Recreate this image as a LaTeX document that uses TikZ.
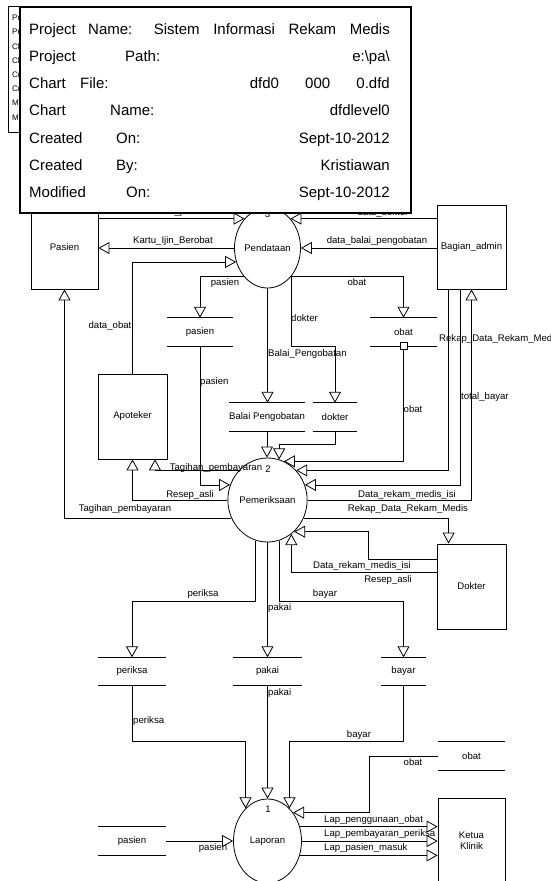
\documentclass[tikz,border=0pt]{standalone}
\usepackage{fontspec}
\setmainfont{Liberation Sans}
\usetikzlibrary{arrows.meta, shapes.geometric}
\tikzset{
	entity/.style={draw, line width=.8pt, inner sep=1pt, align=center},
	proc/.style={draw, ellipse, line width=.8pt, inner sep=0pt},
	store/.style={inner sep=0pt, minimum height=28pt},
	flow/.style={line width=.8pt, -{Triangle[length=11pt, width=12pt, fill=white]}},
	lbl/.style={inner sep=0pt, text height=7pt, text depth=2pt},
	hdrtxt/.style={inner sep=0pt, text height=11pt, text depth=1pt, font=\fontsize{15}{18}\selectfont},
}

\begin{document}
\begin{tikzpicture}[x=1pt, y=-1pt, font=\fontsize{9.6}{11}\selectfont]
	\useasboundingbox (0,0) rectangle (550,881);
	% flow labels first, the arrow tips are drawn over them
	\foreach \x/\y/\t [count=\i] in {182/212/data\_pasien, 383/213/data\_dokter,
			173/241/Kartu\_Ijin\_Berobat, 377/241/data\_balai\_pengobatan,
			110/326/data\_obat, 225/283/pasien, 357/283/obat, 413/410/obat,
			216/468/Tagihan\_pembayaran, 190/495/Resep\_asli, 125/509/Tagihan\_pembayaran,
			407/495/Data\_rekam\_medis\_isi, 408/509/Rekap\_Data\_Rekam\_Medis,
			362/566/Data\_rekam\_medis\_isi, 388/580/Resep\_asli,
			203/594/periksa, 325/594/bayar, 359/735/bayar, 413/763/obat, 213/848/pasien,
			267.5/215/3, 268/470/2, 268/810/1} {
		\node[lbl] (lc\i) at (\x,\y) {\t};
	}
	\foreach \x/\y/\t [count=\i] in {200/382/pasien, 268/354/Balai\_Pengobatan,
			291/319/dokter, 439/339/Rekap\_Data\_Rekam\_Medis, 461/397/total\_bayar,
			268/608/pakai, 268/693/pakai, 133/721/periksa,
			324/820/Lap\_penggunaan\_obat, 324/834/Lap\_pembayaran\_periksa,
			324/848/Lap\_pasien\_masuk} {
		\node[lbl, anchor=west] (lw\i) at (\x,\y) {\t};
	}

	% external entities
	\node[entity, minimum width=67pt, minimum height=84pt] (ePasien) at (64.5,247) {Pasien};
	\node[entity, minimum width=69pt, minimum height=84pt] (eAdmin) at (471.5,247) {Bagian\_admin};
	\node[entity, minimum width=69pt, minimum height=85pt] (eApoteker) at (132.5,416.5) {Apoteker};
	\node[entity, minimum width=69pt, minimum height=85pt] (eDokter) at (471.5,586.5) {Dokter};
	\node[entity, minimum width=67pt, minimum height=86pt] (eKetua) at (471.5,841) {Ketua\\Klinik};

	% processes
	\node[proc, minimum width=66pt, minimum height=80pt] (pPendataan) at (267.5,248) {Pendataan};
	\node[proc, minimum width=68pt, minimum height=84pt] (pPemeriksaan) at (267.5,500) {Pemeriksaan};
	\node[proc, minimum width=68pt, minimum height=84pt] (pLaporan) at (267.5,841) {Laporan};

	% data stores
	\foreach \n/\x/\y/\w/\t in {sPas1/200/332/66pt/pasien, sObat1/403.5/332/67pt/obat,
			sBalai/267/417/68pt/Balai Pengobatan, sDok/335/417/44pt/dokter,
			sPeriksa/132/671.5/68pt/periksa, sPakai/267.5/671.5/69pt/pakai,
			sBayar/403.5/671.5/45pt/bayar, sObat2/471.5/756/67pt/obat,
			sPas2/132/841/68pt/pasien} {
		\node[store, minimum width=\w] (\n) at (\x,\y) {\t};
		\draw[line width=.8pt] (\n.north west) -- (\n.north east) (\n.south west) -- (\n.south east);
	}

	% flows round Pendataan
	\draw[flow] (ePasien.east |- pPendataan.128) -- (pPendataan.128);
	\draw[flow] (eAdmin.west |- pPendataan.52) -- (pPendataan.52);
	\draw[flow] (pPendataan.west) -- (pPendataan.west -| ePasien.east);
	\draw[flow] (eAdmin.west |- pPendataan.east) -- (pPendataan.east);
	\draw[flow] (eApoteker.north) |- (pPendataan.204);
	\draw[flow] (pPendataan.230) -| (sPas1.north);
	\draw[flow] (pPendataan.310) -| (sObat1.north);
	\draw[flow] (pPendataan.310) -- ++(0,70) -| (sDok.north);
	\draw[flow] (pPendataan.south) -- (pPendataan.south |- sBalai.north);

	% flows round Pemeriksaan
	\draw[flow] (sBalai.south) -- (sBalai.south |- pPemeriksaan.north);
	\draw[flow] (sDok.south) -- ++(0,13) -| (pPemeriksaan.74);
	\draw[flow] (sObat1.south) |- (pPemeriksaan.67);
	\node[draw, fill=white, line width=.8pt, inner sep=0pt, minimum size=7pt] (sq) at (sObat1.south) {};
	\draw[flow] ([xshift=12pt]eAdmin.south west) |- (pPemeriksaan.46);
	\draw[flow] ([xshift=24pt]eAdmin.south west) |- (pPemeriksaan.22);
	\draw[flow] (sPas1.south) |- (pPemeriksaan.158);
	\draw[flow] (pPemeriksaan.east) -| (eAdmin.south);
	\draw[flow] (pPemeriksaan.333) -| ([xshift=12pt]eDokter.north west);
	\draw[flow] ([yshift=27.5pt]eDokter.west) -- ++(-68,0) |- (pPemeriksaan.310);
	\draw[flow] ([yshift=14.5pt]eDokter.west) -| (pPemeriksaan.305);
	\draw[flow] (pPemeriksaan.134) -| ([xshift=22.5pt]eApoteker.south);
	\draw[flow] (pPemeriksaan.west) -| (eApoteker.south);
	\draw[flow] (pPemeriksaan.207) -| (ePasien.south);
	\draw[flow] (pPemeriksaan.254) -- ++(0,61) -| (sPeriksa.north);
	\draw[flow] (pPemeriksaan.south) -- (pPemeriksaan.south |- sPakai.north);
	\draw[flow] (pPemeriksaan.286) -- ++(0,61) -| (sBayar.north);

	% flows round Laporan
	\draw[flow] (sPeriksa.south) -- ++(0,56) -| (pLaporan.124);
	\draw[flow] (sPakai.south) -- (sPakai.south |- pLaporan.north);
	\draw[flow] (sBayar.south) -- ++(0,56) -| (pLaporan.56);
	\draw[flow] (sObat2.west) -- ++(-68,0) |- (pLaporan.48);
	\draw[flow] (sPas2.east) -- (pLaporan.west);
	\foreach \a in {24,0,336}
		\draw[flow] (pLaporan.\a) -- (pLaporan.\a -| eKetua.west);

	% chart info boxes
	\node[draw, fill=white, line width=.8pt, minimum width=202pt, minimum height=126pt, inner sep=0pt] (hdrBack) at (109,69) {};
	\foreach \t [count=\r from 0] in {Pr, Pr, Ch, Ch, Cr, Cr, Mo, Mo}
		\node[anchor=west, inner sep=0pt, font=\fontsize{8}{9}\selectfont] (hb\r) at (12,18+14.2*\r) {\t};
	\node[draw, fill=white, line width=1.8pt, minimum width=391pt, minimum height=206pt, inner sep=0pt] (hdr) at (215.5,110) {};
	\foreach \ka/\kb/\kx/\val [count=\r from 0] in {
			Project/Name:/88/{\makebox[236pt][s]{Sistem Informasi Rekam Medis}},
			Project/Path:/125/{e:\textbackslash pa\textbackslash},
			Chart/File:/80/{\makebox[140pt][s]{dfd0 000 0.dfd}},
			Chart/Name:/110/dfdlevel0,
			Created/On:/116/Sept-10-2012,
			Created/By:/116/Kristiawan,
			Modified/On:/126/Sept-10-2012} {
		\node[hdrtxt, anchor=west] (hk\r) at (29,29+27.3*\r) {\ka};
		\node[hdrtxt, anchor=west] (hn\r) at (\kx,29+27.3*\r) {\kb};
		\node[hdrtxt, anchor=east] (hv\r) at (390,29+27.3*\r) {\val};
	}
\end{tikzpicture}
\end{document}
